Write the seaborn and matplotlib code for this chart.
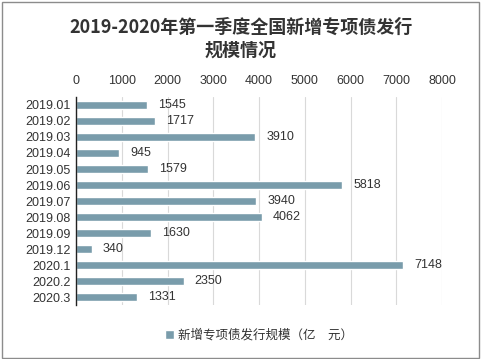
import matplotlib
matplotlib.use("Agg")
import matplotlib.pyplot as plt
import seaborn as sns
import pandas as pd

months = ["2019.01", "2019.02", "2019.03", "2019.04", "2019.05", "2019.06", "2019.07",
          "2019.08", "2019.09", "2019.12", "2020.1", "2020.2", "2020.3"]
issuance = [1545, 1717, 3910, 945, 1579, 5818, 3940, 4062, 1630, 340, 7148, 2350, 1331]
x_ticks = [0, 1000, 2000, 3000, 4000, 5000, 6000, 7000, 8000]
series_name = "新增专项债发行规模（亿　元）"

sns.set_style("white")
plt.rcParams['font.family'] = ['Liberation Sans', 'Noto Sans CJK SC', 'DejaVu Sans']

df = pd.DataFrame({"month": months, "value": issuance})
bar_color = "#71A0B3"

fig = plt.figure(figsize=(4.82, 3.59), dpi=100)
ax = fig.add_axes([0.158, 0.150, 0.759, 0.580])
sns.barplot(data=df, x="value", y="month", orient="h", color=bar_color,
            width=0.48, ax=ax, label=series_name)

ax.set_xlim(0, 8000)
ax.set_ylim(12.5, -0.5)
ax.set_xticks(x_ticks)
ax.xaxis.tick_top()
ax.tick_params(axis="x", length=0, labelsize=9, colors="#333333", pad=7)
ax.tick_params(axis="y", length=0, labelsize=9, colors="#333333", pad=4)
ax.set_xlabel("")
ax.set_ylabel("")
ax.grid(axis="x", color="#D9D9D9", linewidth=0.8)
ax.set_axisbelow(True)
for s in ["top", "right", "bottom"]:
    ax.spines[s].set_visible(False)
ax.spines["left"].set_color("#222222")
ax.spines["left"].set_linewidth(1.0)

for c in ax.containers:
    ax.bar_label(c, labels=[str(v) for v in issuance], padding=8, fontsize=9, color="#333333")

fig.suptitle("2019-2020年第一季度全国新增专项债发行\n规模情况", y=0.95,
             fontsize=13, fontweight="bold", color="#333333", linespacing=1.25,
             family=['Noto Sans CJK SC', 'DejaVu Sans'])

leg = ax.legend(loc="center", bbox_to_anchor=(0.5, -0.145), frameon=False, fontsize=9,
                handlelength=0.7, handleheight=0.7, handletextpad=0.3,
                labelcolor="#333333")

border = plt.Rectangle((0.004, 0.004), 0.99, 0.99, transform=fig.transFigure,
                       fill=False, edgecolor="#8C8C8C", linewidth=1.0)
fig.patches.append(border)

fig.savefig("out.png", dpi=100)
